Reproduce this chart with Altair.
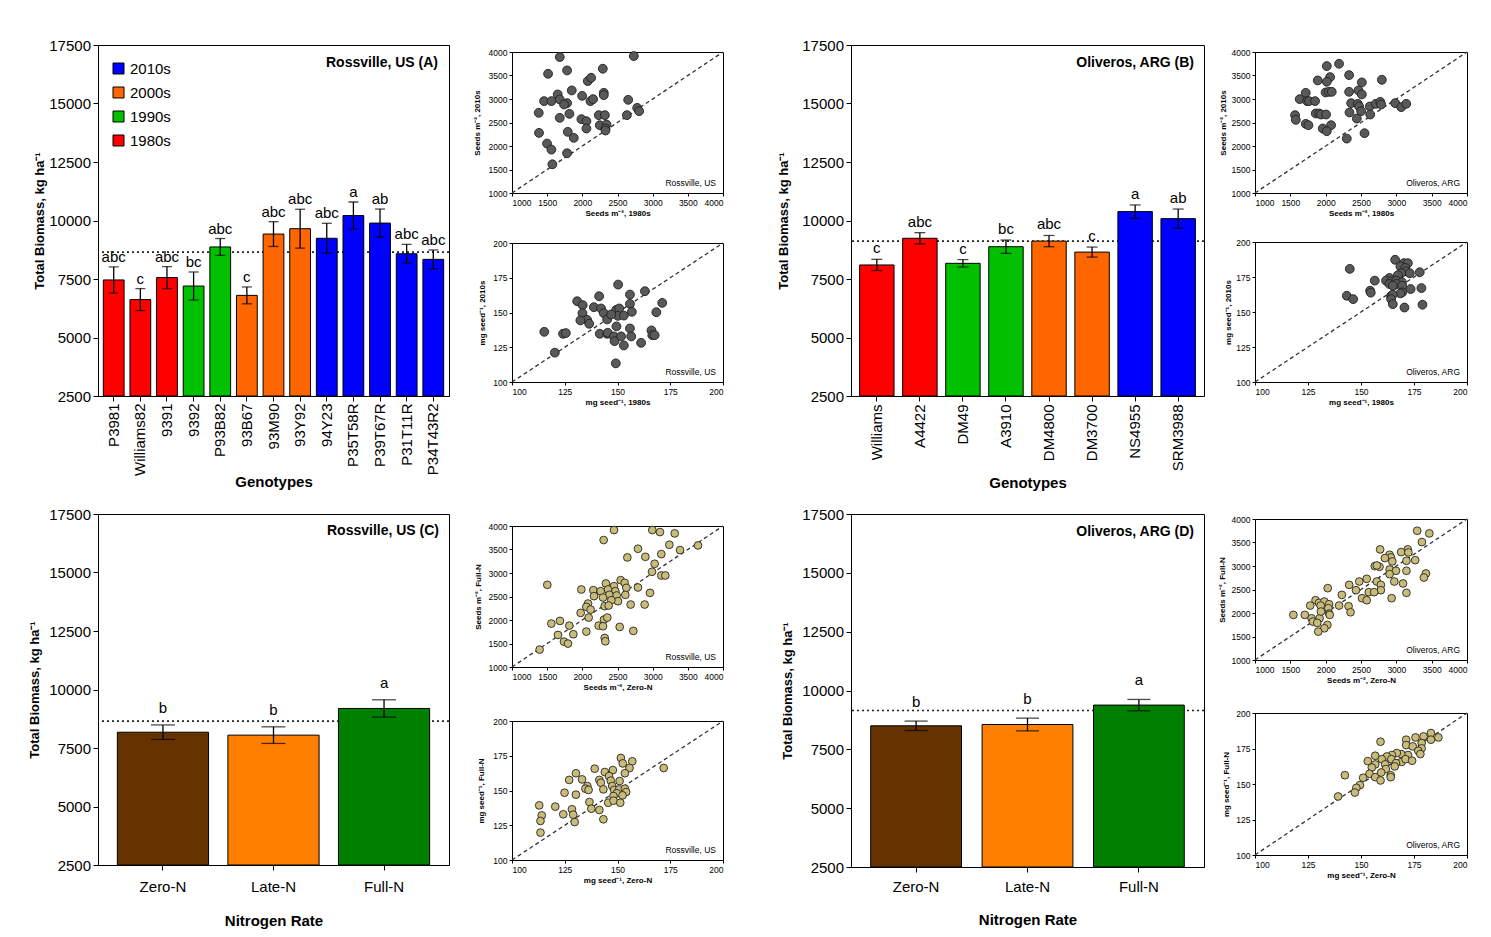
import altair as alt
import pandas as pd

FONT = "Liberation Sans"

# ---------------- bar panels ----------------
Y_DOMAIN = [2500, 17500]
Y_TICKS = [2500, 5000, 7500, 10000, 12500, 15000, 17500]
Y_TITLE = "Total Biomass, kg ha\u207b\u00b9"

DECADES = ["2010s", "2000s", "1990s", "1980s"]
DECADE_COLORS = ["#0000FF", "#FF6600", "#00C000", "#FF0000"]

a_genotypes = ["P3981", "Williams82", "9391", "9392", "P93B82", "93B67", "93M90",
               "93Y92", "94Y23", "P35T58R", "P39T67R", "P31T11R", "P34T43R2"]
a_decades = ["1980s", "1980s", "1980s", "1990s", "1990s", "2000s", "2000s",
             "2000s", "2010s", "2010s", "2010s", "2010s", "2010s"]
a_means = [7460, 6620, 7560, 7200, 8870, 6800, 9420, 9650, 9240, 10210, 9890, 8580, 8340]
a_errs = [560, 470, 470, 600, 360, 360, 530, 830, 640, 580, 600, 400, 400]
a_letters = ["abc", "c", "abc", "bc", "abc", "c", "abc", "abc", "abc", "a", "ab", "abc", "abc"]
a_grand = [8650]

b_genotypes = ["Williams", "A4422", "DM49", "A3910", "DM4800", "DM3700", "NS4955", "SRM3988"]
b_decades = ["1980s", "1980s", "1990s", "1990s", "2000s", "2000s", "2010s", "2010s"]
b_means = [8100, 9240, 8170, 8880, 9120, 8650, 10380, 10080]
b_errs = [240, 240, 160, 285, 240, 215, 285, 410]
b_letters = ["c", "abc", "c", "bc", "abc", "c", "a", "ab"]
b_grand = [9120]

N_RATES = ["Zero-N", "Late-N", "Full-N"]
N_COLORS = ["#663300", "#FF8000", "#008000"]
c_means = [8175, 8050, 9190]
c_errs = [310, 355, 370]
c_letters = ["b", "b", "a"]
c_grand = [8650]
d_means = [8500, 8555, 9380]
d_errs = [200, 270, 240]
d_letters = ["b", "b", "a"]
d_grand = [9150]

# ---------------- scatter insets ----------------
SEED_DOM = [1000, 4000]
SEED_TICKS = [1000, 1500, 2000, 2500, 3000, 3500, 4000]
MASS_DOM = [100, 200]
MASS_TICKS = [100, 125, 150, 175, 200]

s1_x = [1679, 2732, 1513, 1783, 2291, 2077, 2125, 1850, 1650, 1679, 1456, 1560, 1783, 1740, 1997,
        2115, 2153, 2305, 2305, 2652, 1380, 1679, 1816, 1987, 2058, 2058, 2234, 2320, 2633, 2780,
        2808, 2248, 2343, 2329, 2329, 1384, 1793, 1878, 1498, 1560, 1783, 1574]
s1_y = [3893, 3914, 3537, 3608, 3644, 3381, 3452, 3182, 3097, 2990, 2955, 2955, 2912, 2883, 3068,
        2955, 2997, 3132, 3082, 2983, 2706, 2599, 2684, 2571, 2528, 2372, 2656, 2656, 2656, 2812,
        2741, 2443, 2457, 2372, 2329, 2279, 2301, 2173, 2052, 1924, 1846, 1611]

s2_x = [150.3, 130.9, 133.5, 141.3, 138.8, 142.2, 143.5, 133.4, 135.6, 136.6, 132.4, 145.1, 149.4,
        150.8, 150.2, 153.0, 155.9, 155.9, 156.8, 163.0, 168.4, 171.2, 147.0, 149.5, 155.9, 115.3,
        124.2, 125.5, 141.6, 145.1, 145.4, 148.3, 148.6, 151.7, 156.5, 153.0, 161.2, 166.1, 166.5,
        167.6, 120.3, 149.2]
s2_y = [170.1, 158.1, 155.3, 161.7, 153.8, 152.9, 149.5, 149.5, 144.7, 141.9, 144.3, 145.0, 151.9,
        152.9, 147.6, 147.8, 162.9, 156.2, 150.5, 165.3, 150.2, 156.9, 148.6, 140.0, 138.5, 136.1,
        134.7, 135.2, 134.7, 134.7, 135.4, 132.8, 129.4, 132.8, 132.8, 126.3, 128.2, 137.1, 133.7,
        133.7, 121.1, 113.4]

s3_x = [2190, 2016, 2063, 2016, 2332, 2795, 2512, 1888, 1718, 1633, 1737, 1764, 1850, 1999, 2046,
        2086, 2332, 2464, 2512, 2361, 2455, 2474, 2502, 2625, 2710, 2772, 2786, 2984, 3069, 3140,
        2337, 2630, 1860, 1907, 1935, 2006, 1567, 1577, 1718, 1756, 2077, 1959, 2016, 2441, 2550, 2299]
s3_y = [3750, 3701, 3466, 3367, 3509, 3409, 3352, 3395, 3132, 2997, 2955, 2955, 2955, 3139, 3153,
        3153, 3153, 3182, 3097, 2912, 2898, 2841, 2741, 2841, 2898, 2940, 2883, 2912, 2827, 2898,
        2713, 2670, 2692, 2692, 2670, 2670, 2656, 2556, 2471, 2443, 2443, 2372, 2315, 2585, 2272, 2158]

s4_x = [144.7, 166.1, 170.2, 172.1, 168.6, 170.9, 171.3, 177.7, 173.0, 169.0, 167.4, 163.4, 156.5,
        161.8, 164.2, 166.6, 169.3, 163.4, 166.7, 165.0, 169.4, 173.4, 178.5, 169.4, 168.6, 154.3,
        154.6, 143.3, 146.3, 164.2, 165.0, 164.2, 165.0, 170.5, 179.0]
s4_y = [180.8, 187.3, 184.9, 184.9, 182.5, 181.5, 179.1, 178.4, 177.7, 177.7, 176.3, 174.3, 172.4,
        172.4, 171.9, 172.4, 171.2, 170.0, 170.0, 168.8, 168.8, 166.4, 167.1, 164.0, 163.3, 165.2,
        163.8, 161.6, 159.2, 161.4, 162.4, 159.2, 155.6, 153.2, 155.2]

s5_x = [2450, 2995, 3104, 3313, 2303, 3237, 2791, 3389, 3645, 3123, 2896, 2640, 3028, 2991, 3123,
        3180, 1502, 2545, 2336, 2602, 2450, 2626, 2791, 1986, 2156, 2261, 2365, 2469, 2384, 2488,
        2611, 2962, 2166, 2294, 2507, 2412, 2081, 2318, 2374, 2687, 2886, 2057, 2118, 1976, 2090,
        2308, 2355, 1559, 1682, 1815, 2232, 2294, 2531, 2057, 2725, 1654, 1872, 2318, 2327, 1739,
        1796, 1393]
s5_y = [3914, 3914, 3871, 3843, 3701, 3601, 3516, 3488, 3587, 3402, 3345, 3331, 3196, 3026, 2947,
        2947, 2748, 2848, 2777, 2791, 2720, 2684, 2692, 2649, 2635, 2613, 2649, 2613, 2535, 2521,
        2535, 2578, 2507, 2478, 2400, 2421, 2350, 2294, 2308, 2329, 2329, 2279, 2222, 2151, 2052,
        2009, 2052, 1924, 1981, 1881, 1881, 1867, 1853, 1753, 1768, 1682, 1697, 1618, 1547, 1540,
        1498, 1370]

s6_x = [151.6, 157.0, 152.5, 171.9, 155.7, 139.2, 144.0, 147.8, 153.5, 130.3, 127.1, 133.2, 141.4,
        146.0, 146.8, 142.1, 151.0, 135.7, 134.8, 136.3, 130.3, 124.9, 143.3, 147.5, 148.4, 150.8,
        153.5, 154.1, 149.7, 148.1, 152.4, 145.6, 148.1, 151.3, 136.7, 137.6, 141.4, 120.5, 112.9,
        128.4, 129.0, 124.3, 114.1, 129.7, 113.5, 143.3, 113.5]
s6_y = [173.4, 171.0, 169.5, 166.2, 166.2, 165.7, 163.3, 164.7, 162.4, 162.4, 157.6, 158.0, 157.6,
        160.4, 157.1, 155.6, 156.8, 153.2, 151.3, 150.4, 147.0, 148.4, 150.8, 153.2, 150.4, 150.8,
        151.3, 148.9, 148.0, 146.0, 146.5, 141.2, 142.7, 141.2, 141.7, 136.9, 136.0, 138.4, 139.3,
        136.5, 132.6, 132.9, 132.1, 127.3, 128.1, 129.3, 119.7]

s7_x = [3295, 3467, 3362, 2771, 3162, 3067, 2905, 2924, 2838, 2943, 3143, 3267, 3171, 2762, 2695,
        2724, 2905, 2995, 3143, 2905, 3419, 3390, 2476, 2724, 2581, 2333, 2971, 3095, 2781, 2429,
        2610, 2781, 2686, 3143, 2514, 2581, 2933, 2029, 2229, 1857, 1905, 1981, 2048, 1781, 1929,
        2190, 2324, 2038, 1543, 1705, 1800, 1914, 2048, 2057, 2352, 1933, 1819, 1881, 2024, 1981, 1895]
s7_y = [3750, 3694, 3509, 3353, 3353, 3296, 3239, 3182, 3168, 3097, 3111, 3125, 3288, 2983, 2997,
        3011, 2926, 2898, 2898, 2827, 2841, 2755, 2670, 2670, 2727, 2599, 2670, 2628, 2599, 2485,
        2443, 2485, 2443, 2429, 2315, 2272, 2315, 2528, 2386, 2272, 2215, 2244, 2187, 2158, 2158,
        2158, 2144, 2102, 1960, 1960, 1888, 1888, 1988, 1960, 2016, 2031, 1817, 1789, 1746, 1675, 1604]

s8_x = [159.2, 183.0, 186.5, 183.0, 179.5, 175.7, 171.3, 171.3, 174.4, 178.6, 178.6, 177.0, 178.0,
        172.2, 169.0, 166.9, 164.6, 162.2, 156.7, 159.8, 164.3, 169.2, 166.5, 153.2, 156.7, 161.4,
        155.1, 161.7, 154.0, 156.7, 159.5, 159.2, 164.0, 164.0, 151.0, 142.4, 149.5, 147.8, 147.1,
        139.2, 171.0, 174.1, 165.9]
s8_y = [179.8, 185.9, 182.8, 181.2, 183.5, 182.8, 181.2, 177.4, 176.5, 178.8, 175.1, 173.4, 171.1,
        170.4, 171.1, 171.8, 170.4, 169.4, 169.9, 167.5, 167.5, 165.6, 164.7, 166.1, 163.8, 163.8,
        161.6, 160.5, 157.2, 154.8, 158.1, 152.5, 156.2, 154.8, 154.4, 156.2, 149.2, 147.3, 144.0,
        141.2, 167.5, 166.4, 162.4]

SEED_T = "Seeds m\u207b\u00b2"
MASS_T = "mg seed\u207b\u00b9"
GRAY_FILL, GRAY_STROKE = "#595959", "#1f1f1f"
KHAKI_FILL, KHAKI_STROKE = "#c9bb78", "#262626"


def bar_panel(cats, groups, means, errs, letters, grand, cdom, crange, title, title_dx,
              title_offset, xtitle, label_angle, label_pad, xtitle_y, ytitle_x, width,
              height, pin, pout, cap, letter_dy, legend):
    df = pd.DataFrame({
        "cat": cats, "grp": groups, "mean": means,
        "lo": [m - e for m, e in zip(means, errs)],
        "hi": [m + e for m, e in zip(means, errs)],
        "letter": letters,
        "base": [Y_DOMAIN[0]] * len(cats),
    })
    ysc = alt.Scale(domain=Y_DOMAIN, nice=False, zero=False)
    yax = alt.Axis(values=Y_TICKS, format="d", title=Y_TITLE, titleX=ytitle_x, titleY=height / 2,
                   titleAngle=270, titleBaseline="middle", titleAlign="center", titleFontSize=13,
                   titleFontWeight="bold", labelFontSize=15, tickSize=5, labelPadding=2.5)
    xenc = alt.X("cat:N", sort=cats, scale=alt.Scale(paddingInner=pin, paddingOuter=pout),
                 axis=alt.Axis(title=xtitle, labelAngle=label_angle, labelFontSize=15,
                               labelPadding=label_pad, tickSize=5, titleFontSize=15,
                               titleFontWeight="bold", titleY=xtitle_y, titleBaseline="middle"))
    base = alt.Chart(df)
    mean_line = alt.Chart(pd.DataFrame({"g": grand})).mark_rule(
        strokeDash=[2, 3], strokeWidth=1.6, color="#222222").encode(
        y=alt.Y("g:Q", scale=ysc, axis=yax))
    bars = base.mark_bar(stroke="black", strokeWidth=1).encode(
        x=xenc, y=alt.Y("mean:Q", scale=ysc, axis=yax), y2="base:Q",
        color=alt.Color("grp:N", scale=alt.Scale(domain=cdom, range=crange), legend=legend))
    err = base.mark_rule(color="black", strokeWidth=1.3).encode(
        x=xenc, y=alt.Y("lo:Q", scale=ysc, axis=yax), y2="hi:Q")
    cap_lo = base.mark_tick(color="black", thickness=1.3, size=cap).encode(
        x=xenc, y=alt.Y("lo:Q", scale=ysc, axis=yax))
    cap_hi = base.mark_tick(color="black", thickness=1.3, size=cap).encode(
        x=xenc, y=alt.Y("hi:Q", scale=ysc, axis=yax))
    text = base.mark_text(fontSize=15, baseline="alphabetic", dy=-letter_dy, font=FONT,
                          color="black").encode(
        x=xenc, y=alt.Y("hi:Q", scale=ysc, axis=yax), text="letter:N")
    return alt.layer(mean_line, bars, err, cap_lo, cap_hi, text).properties(
        width=width, height=height,
        title=alt.TitleParams(title, anchor="end", frame="group", orient="top",
                              offset=title_offset, dx=title_dx, baseline="alphabetic",
                              fontSize=14, fontWeight="bold", font=FONT, color="black"))


def scatter(xs, ys, dom, ticks, xtitle, ytitle, note, fill, stroke, size, width, height,
            ytitle_x):
    df = pd.DataFrame({"x": xs, "y": ys})
    diag = pd.DataFrame({"x": dom, "y": dom})
    sc = alt.Scale(domain=dom, nice=False, zero=False)
    xax = alt.Axis(values=ticks, format="d", title=xtitle, labelFontSize=8.5, tickSize=3,
                   labelPadding=2, titleFontSize=8, titleFontWeight="bold", titlePadding=3)
    yax = alt.Axis(values=ticks, format="d", title=ytitle, labelFontSize=8.5, tickSize=3,
                   labelPadding=2, titleFontSize=8, titleFontWeight="bold",
                   titleX=ytitle_x, titleY=height / 2, titleAngle=270,
                   titleBaseline="middle", titleAlign="center")
    line = alt.Chart(diag).mark_line(strokeDash=[4, 3], strokeWidth=1.3, color="#333333").encode(
        x=alt.X("x:Q", scale=sc, axis=xax), y=alt.Y("y:Q", scale=sc, axis=yax))
    pts = alt.Chart(df).mark_circle(size=size, fill=fill, stroke=stroke, strokeWidth=0.9,
                                    opacity=1).encode(
        x=alt.X("x:Q", scale=sc, axis=xax), y=alt.Y("y:Q", scale=sc, axis=yax))
    return alt.layer(line, pts).properties(
        width=width, height=height,
        title=alt.TitleParams(note, anchor="end", frame="group", orient="top",
                              offset=-(height - 7) - 12, dx=-7, baseline="alphabetic",
                              fontSize=8.5, fontWeight="normal", font=FONT, color="black"))


SPACER_DF = pd.DataFrame({"v": [0]})


def spacer(w, h):
    return alt.Chart(SPACER_DF).mark_point(opacity=0).encode(size=alt.value(1)).properties(
        width=w, height=h, view=alt.ViewBackground(stroke="transparent"))


legend_a = alt.Legend(title=None, orient="none", legendX=13, legendY=16, symbolType="square",
                      symbolSize=121, symbolStrokeColor="black", symbolStrokeWidth=1,
                      labelFontSize=15, labelFont=FONT, rowPadding=8, padding=0, labelOffset=4)

panel_a = bar_panel(a_genotypes, a_decades, a_means, a_errs, a_letters, a_grand, DECADES,
                    DECADE_COLORS, "Rossville, US (A)", -11, -42.5, "Genotypes", 270, 2, 85,
                    -59, 351, 351, 0.22, 0.2, 10, 5, legend_a)
panel_b = bar_panel(b_genotypes, b_decades, b_means, b_errs, b_letters, b_grand, DECADES,
                    DECADE_COLORS, "Oliveros, ARG (B)", -10, -42.5, "Genotypes", 270, 3, 86.5,
                    -68, 353, 351, 0.2, 0.2, 11, 6, None)
panel_c = bar_panel(N_RATES, N_RATES, c_means, c_errs, c_letters, c_grand, N_RATES, N_COLORS,
                    "Rossville, US (C)", -10, -42, "Nitrogen Rate", 0, 9, 55.5, -64, 351, 351,
                    0.175, 0.175, 24, 12, None)
panel_d = bar_panel(N_RATES, N_RATES, d_means, d_errs, d_letters, d_grand, N_RATES, N_COLORS,
                    "Oliveros, ARG (D)", -10, -42.5, "Nitrogen Rate", 0, 7, 52.5, -64, 353, 353,
                    0.185, 0.177, 23, 14, None)

sc1 = scatter(s1_x, s1_y, SEED_DOM, SEED_TICKS, SEED_T + ", 1980s", SEED_T + ", 2010s",
              "Rossville, US", GRAY_FILL, GRAY_STROKE, 78, 211, 141, -35)
sc2 = scatter(s2_x, s2_y, MASS_DOM, MASS_TICKS, MASS_T + ", 1980s", MASS_T + ", 2010s",
              "Rossville, US", GRAY_FILL, GRAY_STROKE, 78, 211, 139, -30)
sc3 = scatter(s3_x, s3_y, SEED_DOM, SEED_TICKS, SEED_T + ", 1980s", SEED_T + ", 2010s",
              "Oliveros, ARG", GRAY_FILL, GRAY_STROKE, 78, 212, 141, -32)
sc4 = scatter(s4_x, s4_y, MASS_DOM, MASS_TICKS, MASS_T + ", 1980s", MASS_T + ", 2010s",
              "Oliveros, ARG", GRAY_FILL, GRAY_STROKE, 78, 212, 140, -27)
sc5 = scatter(s5_x, s5_y, SEED_DOM, SEED_TICKS, SEED_T + ", Zero-N", SEED_T + ", Full-N",
              "Rossville, US", KHAKI_FILL, KHAKI_STROKE, 60, 211, 141, -34)
sc6 = scatter(s6_x, s6_y, MASS_DOM, MASS_TICKS, MASS_T + ", Zero-N", MASS_T + ", Full-N",
              "Rossville, US", KHAKI_FILL, KHAKI_STROKE, 60, 211, 139, -31)
sc7 = scatter(s7_x, s7_y, SEED_DOM, SEED_TICKS, SEED_T + ", Zero-N", SEED_T + ", Full-N",
              "Oliveros, ARG", KHAKI_FILL, KHAKI_STROKE, 60, 212, 141, -33)
sc8 = scatter(s8_x, s8_y, MASS_DOM, MASS_TICKS, MASS_T + ", Zero-N", MASS_T + ", Full-N",
              "Oliveros, ARG", KHAKI_FILL, KHAKI_STROKE, 60, 212, 142, -29)


def stack(parts):
    return alt.vconcat(*parts, spacing=0, bounds="flush")


# stacks of insets (placed at the top-left of their grid cell)
ins_tl = stack([spacer(211, 7), sc1, spacer(211, 50), sc2])
ins_tr = stack([spacer(212, 7), sc3, spacer(212, 49), sc4])
ins_bl = stack([spacer(211, 12), sc5, spacer(211, 54), sc6])
ins_br = stack([spacer(212, 5), sc7, spacer(212, 53), sc8])

COL_W = [97, 351, 63, 211, 128, 353, 51, 212]
ROW_H = [44, 1, 118, 1]

grid = [
    [spacer(w, ROW_H[0]) for w in COL_W],
    [spacer(COL_W[0], 1), panel_a, spacer(COL_W[2], 1), ins_tl,
     spacer(COL_W[4], 1), panel_b, spacer(COL_W[6], 1), ins_tr],
    [spacer(w, ROW_H[2]) for w in COL_W],
    [spacer(COL_W[0], 1), panel_c, spacer(COL_W[2], 1), ins_bl,
     spacer(COL_W[4], 1), panel_d, spacer(COL_W[6], 1), ins_br],
]

items = [cell for row in grid for cell in row]

chart = alt.concat(*items, columns=len(COL_W), spacing=0, bounds="flush", align="each").resolve_scale(
    color="independent").properties(padding=0, background="white").configure_view(
    stroke="black", strokeWidth=1).configure_axis(
    grid=False, domainColor="black", tickColor="black", labelColor="black", titleColor="black",
    labelFont=FONT, titleFont=FONT, domainWidth=1, tickWidth=1).configure_title(font=FONT)

chart.save("out.html", embed_options={"renderer": "svg", "actions": False})
